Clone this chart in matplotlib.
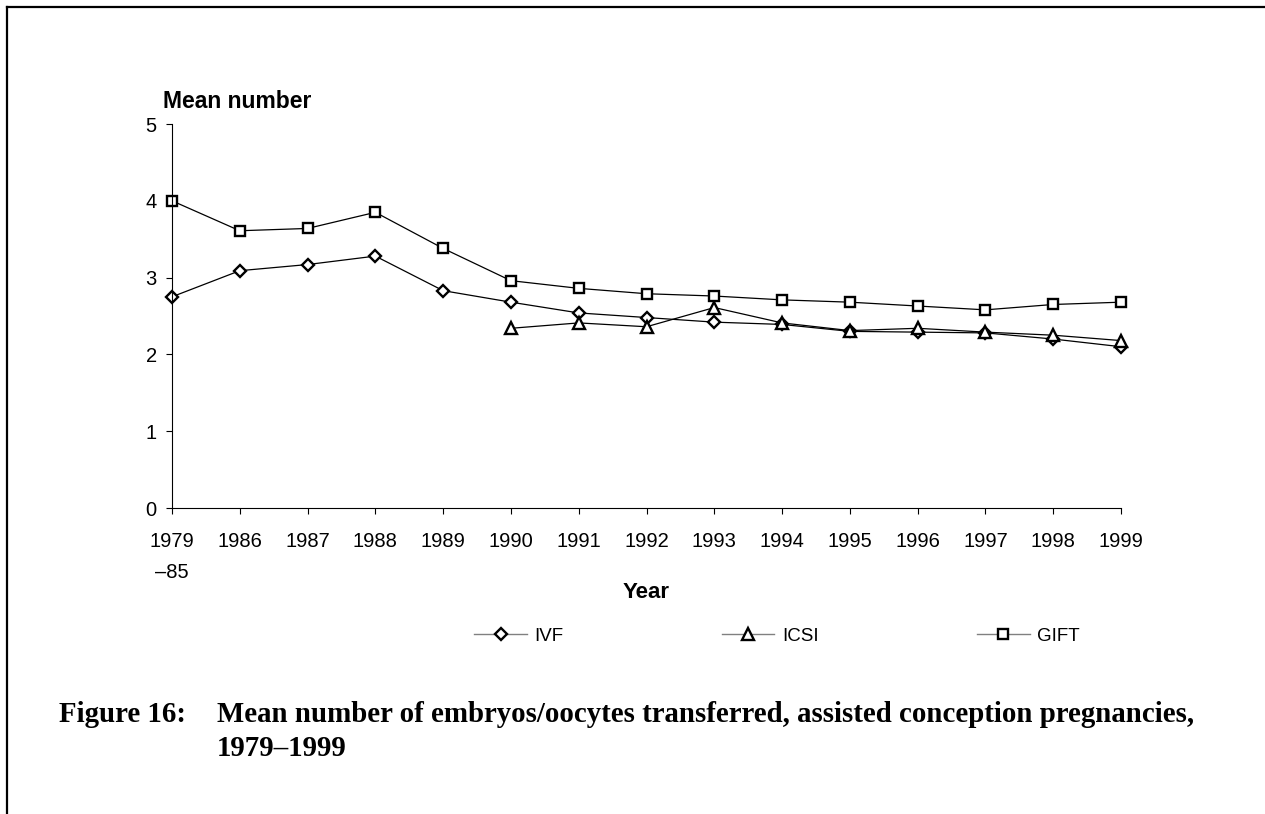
import numpy as np
import matplotlib.pyplot as plt
from matplotlib.lines import Line2D

# values
years = ['1979\n–85', '1986', '1987', '1988', '1989', '1990', '1991', '1992',
         '1993', '1994', '1995', '1996', '1997', '1998', '1999']
ivf = [2.75, 3.09, 3.17, 3.28, 2.83, 2.68, 2.54, 2.48, 2.42, 2.39, 2.30, 2.29, 2.28, 2.20, 2.10]
icsi = [np.nan, np.nan, np.nan, np.nan, np.nan, 2.34, 2.41, 2.36, 2.61, 2.41, 2.31, 2.34, 2.29, 2.25, 2.18]
gift = [4.00, 3.61, 3.64, 3.85, 3.38, 2.96, 2.86, 2.79, 2.76, 2.71, 2.68, 2.63, 2.58, 2.65, 2.68]

W, H = 1265, 814
sans = 'Liberation Sans'
serif = 'Liberation Serif'

fig = plt.figure(figsize=(W / 100, H / 100), dpi=100)
ax = fig.add_axes([172 / W, 1 - 508 / H, (1121 - 172) / W, (508 - 124) / H])

x = np.arange(len(years))
style = dict(color='black', lw=0.9, mfc='white', mec='black', mew=1.7, clip_on=False)
ax.plot(x, ivf, marker='D', ms=5.8, **style)
ax.plot(x, icsi, marker='^', ms=8.3, **style)
ax.plot(x, gift, marker='s', ms=7.6, **style)

ax.set_xlim(0, 14)
ax.set_ylim(0, 5)
ax.set_yticks(range(6))
ax.set_xticks(x)
ax.set_xticklabels(years, family=sans, fontsize=14.5, linespacing=1.8)
for lab in ax.get_yticklabels():
    lab.set_family(sans)
    lab.set_fontsize(14.5)
ax.spines['top'].set_visible(False)
ax.spines['right'].set_visible(False)
for s in ('left', 'bottom'):
    ax.spines[s].set_linewidth(0.8)
ax.tick_params(direction='out', length=4.5, width=0.8, colors='black')
ax.tick_params(axis='y', pad=6.5)
ax.tick_params(axis='x', pad=12.5)

fig.text(163 / W, 1 - 102 / H, 'Mean number', family=sans, weight='bold',
         fontsize=16.5, ha='left', va='center')
fig.text(646 / W, 1 - 593 / H, 'Year', family=sans, weight='bold',
         fontsize=16, ha='center', va='center')

# legend: grey line, black marker
hkw = dict(color='grey', lw=1, mfc='white', mec='black', mew=1.7)
handles = [Line2D([], [], marker='D', ms=5.8, **hkw),
           Line2D([], [], marker='^', ms=8.3, **hkw),
           Line2D([], [], marker='s', ms=7.6, **hkw)]
fig.legend(handles, ['IVF', 'ICSI', 'GIFT'], loc='center', ncol=3,
           bbox_to_anchor=(777 / W, 1 - 636 / H), frameon=False,
           prop={'family': sans, 'size': 13.5}, handlelength=2.8,
           handletextpad=0.4, columnspacing=8.45)

# caption
cap = dict(family=serif, weight='bold', fontsize=20.8, ha='left', va='center')
fig.text(59 / W, 1 - 714 / H, 'Figure 16:', **cap)
fig.text(217 / W, 1 - 714 / H,
         'Mean number of embryos/oocytes transferred, assisted conception pregnancies,',
         **cap)
fig.text(217 / W, 1 - 748 / H, '1979–1999', **cap)

# page frame (top and left edges)
fig.add_artist(Line2D([7 / W, 1], [1 - 7 / H, 1 - 7 / H], color='black', lw=1.6,
                      transform=fig.transFigure))
fig.add_artist(Line2D([7 / W, 7 / W], [1 - 7 / H, 0], color='black', lw=1.6,
                      transform=fig.transFigure))

fig.savefig('out.png', dpi=100)
